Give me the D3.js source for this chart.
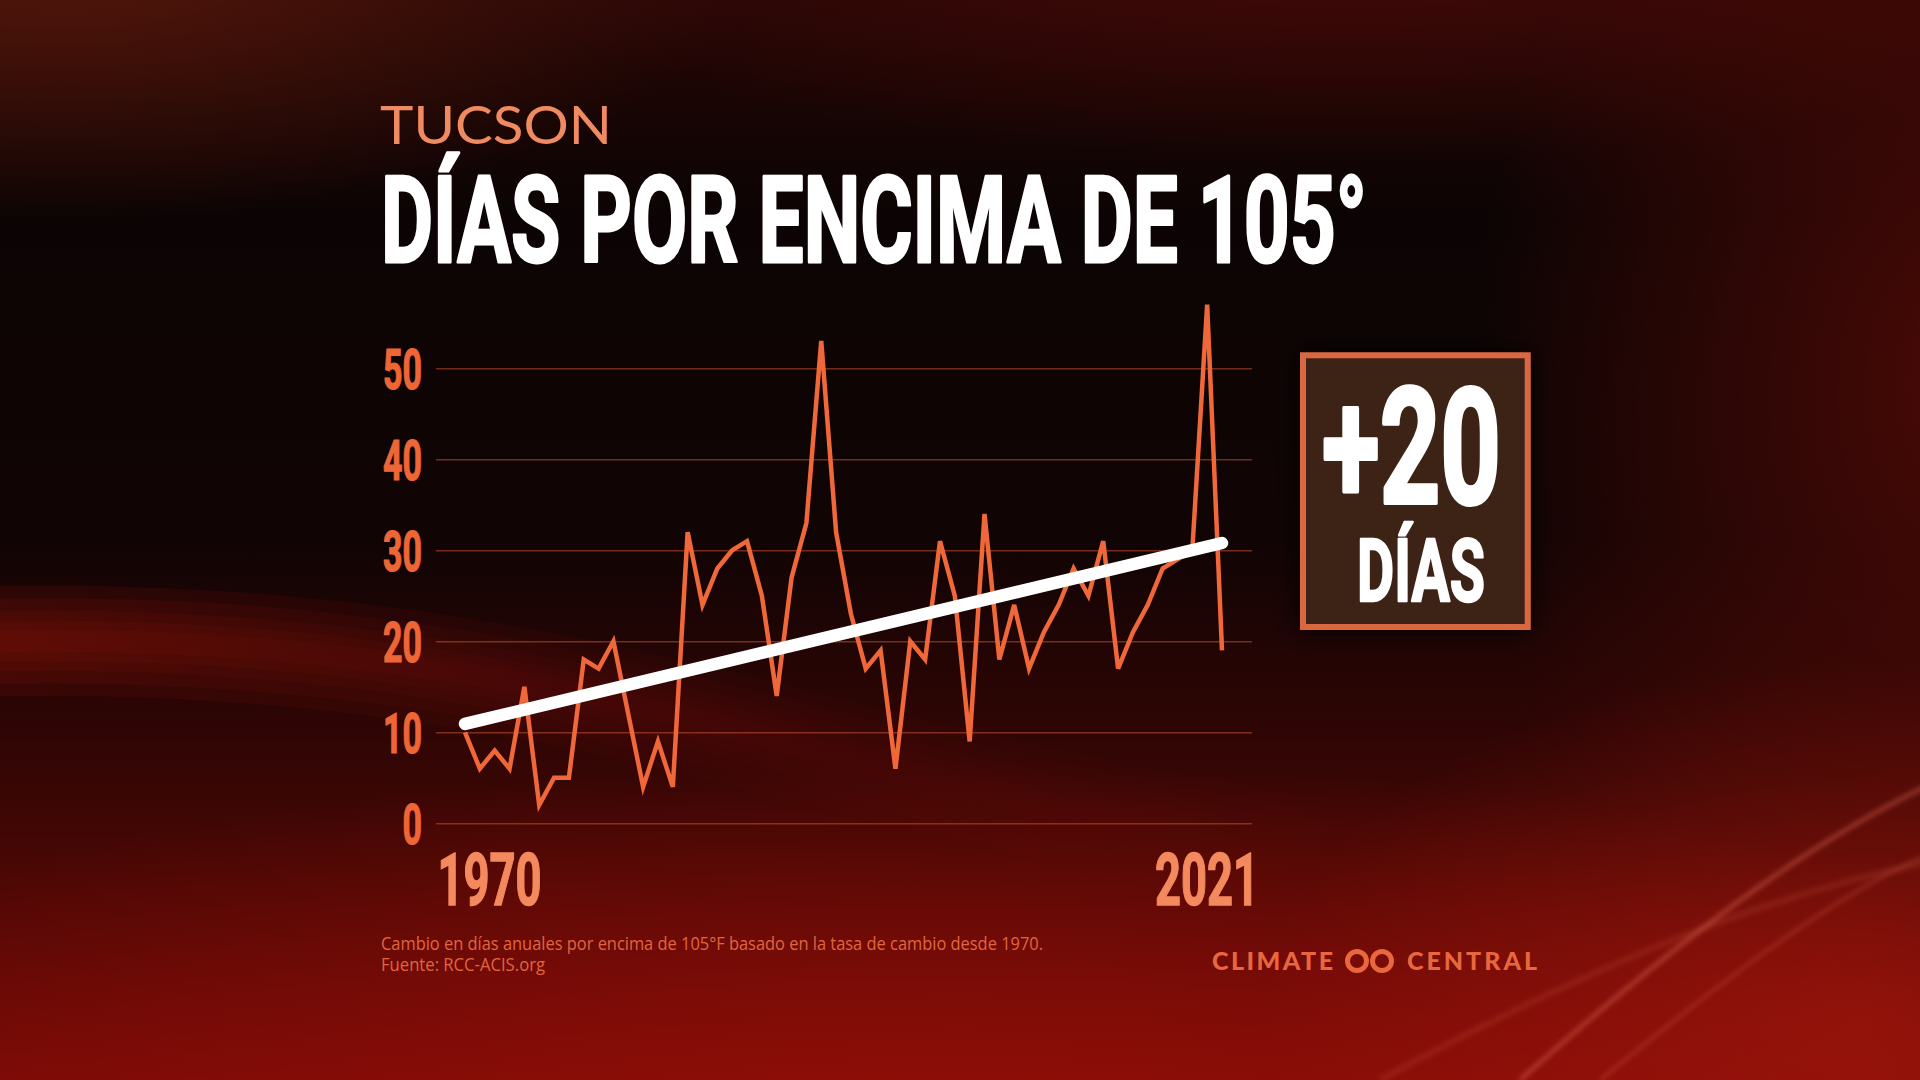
<!DOCTYPE html>
<html>
<head>
<meta charset="utf-8">
<script src="https://cdn.jsdelivr.net/npm/d3@7"></script>
<style>
  html, body { margin: 0; padding: 0; background: #0e0504; }
  svg { display: block; }
</style>
</head>
<body>
<svg id="chart" width="1920" height="1080"></svg>
<script>
/* Tucson — days above 105°F, 1970–2021 */

const years = [1970, 1971, 1972, 1973, 1974, 1975, 1976, 1977, 1978, 1979,
               1980, 1981, 1982, 1983, 1984, 1985, 1986, 1987, 1988, 1989,
               1990, 1991, 1992, 1993, 1994, 1995, 1996, 1997, 1998, 1999,
               2000, 2001, 2002, 2003, 2004, 2005, 2006, 2007, 2008, 2009,
               2010, 2011, 2012, 2013, 2014, 2015, 2016, 2017, 2018, 2019,
               2020, 2021];
const daysAbove105 = [10, 6, 8, 6, 15, 2, 5, 5, 18, 17,
                      20, 12, 4, 9, 4, 32, 24, 28, 30, 31,
                      25, 14, 27, 33, 53, 32, 23, 17, 19, 6,
                      20, 18, 31, 25, 9, 34, 18, 24, 17, 21,
                      24, 28, 25, 31, 17, 21, 24, 28, 29, 30,
                      57, 19];
const yTicks = [0, 10, 20, 30, 40, 50];
const yearLabels = [1970, 2021];
const changeText = ['+20', 'DÍAS'];
const cityText = 'TUCSON';
const titleText = 'DÍAS POR ENCIMA DE 105°';
const footnotes = ['Cambio en días anuales por encima de 105°F basado en la tasa de cambio desde 1970.',
                   'Fuente: RCC-ACIS.org'];

const COND = 'Roboto, "Liberation Sans", sans-serif';
const svg = d3.select('#chart');
const defs = svg.append('defs');

/* ---------- Background ---------- */
const bg = defs.append('linearGradient').attr('id', 'bgV')
  .attr('x1', 0).attr('y1', 0).attr('x2', 0).attr('y2', 1);
[[0, '#240605'], [0.2, '#0c0404'], [0.5, '#110404'], [0.72, '#360604'], [1, '#760a06']]
  .forEach(([o, c]) => bg.append('stop').attr('offset', o).attr('stop-color', c));

// soft radial glows: [id, colour, opacity]
[['gTL', '#5c1a0c', 0.85], ['gTR', '#4c0a07', 0.8], ['gR', '#520a06', 0.9],
 ['gB', '#980f08', 0.8], ['gBR', '#a8180d', 0.6]]
  .forEach(([id, c, o]) => {
    const g = defs.append('radialGradient').attr('id', id);
    g.append('stop').attr('offset', 0).attr('stop-color', c).attr('stop-opacity', o);
    g.append('stop').attr('offset', 0.55).attr('stop-color', c).attr('stop-opacity', o * 0.45);
    g.append('stop').attr('offset', 1).attr('stop-color', c).attr('stop-opacity', 0);
  });

// band fades out towards the right
const band = defs.append('linearGradient').attr('id', 'bandFade')
  .attr('gradientUnits', 'userSpaceOnUse')
  .attr('x1', 0).attr('y1', 0).attr('x2', 1400).attr('y2', 0);
band.append('stop').attr('offset', 0).attr('stop-color', '#7e1008').attr('stop-opacity', 1);
band.append('stop').attr('offset', 0.45).attr('stop-color', '#6a0c07').attr('stop-opacity', 0.45);
band.append('stop').attr('offset', 1).attr('stop-color', '#6a0c07').attr('stop-opacity', 0);

defs.append('filter').attr('id', 'blurSm')
  .attr('filterUnits', 'userSpaceOnUse')
  .attr('x', 1200).attr('y', 650).attr('width', 800).attr('height', 500)
  .append('feGaussianBlur').attr('stdDeviation', 2.5);

const shadow = defs.append('filter').attr('id', 'boxShadow')
  .attr('x', '-30%').attr('y', '-30%').attr('width', '160%').attr('height', '160%');
shadow.append('feDropShadow').attr('dx', 0).attr('dy', 0)
  .attr('stdDeviation', 14).attr('flood-color', '#000').attr('flood-opacity', 0.9);

svg.append('rect').attr('width', 1920).attr('height', 1080).attr('fill', 'url(#bgV)');

const glow = svg.append('g');
glow.append('ellipse').attr('cx', 60).attr('cy', -40).attr('rx', 700).attr('ry', 260).attr('fill', 'url(#gTL)');
glow.append('ellipse').attr('cx', 1350).attr('cy', -60).attr('rx', 900).attr('ry', 220).attr('fill', 'url(#gTR)');
glow.append('ellipse').attr('cx', 1990).attr('cy', 380).attr('rx', 520).attr('ry', 700).attr('fill', 'url(#gR)');
glow.append('ellipse').attr('cx', 960).attr('cy', 1140).attr('rx', 1400).attr('ry', 380).attr('fill', 'url(#gB)');
glow.append('ellipse').attr('cx', 1860).attr('cy', 1020).attr('rx', 600).attr('ry', 360).attr('fill', 'url(#gBR)');

// left swoosh band: stacked soft strokes
const bandPath = 'M-100,645 C200,628 480,662 760,736 C1000,798 1200,836 1400,866';
[110, 85, 60, 40, 22].forEach(w => {
  glow.append('path')
    .attr('d', bandPath)
    .attr('fill', 'none')
    .attr('stroke', 'url(#bandFade)')
    .attr('stroke-opacity', 0.2)
    .attr('stroke-width', w);
});

const streaks = svg.append('g').attr('fill', 'none').attr('filter', 'url(#blurSm)');
[[1520, 1080, 1700, 920, 1830, 830, 1940, 780, 0.45, 4],
 [1600, 1080, 1760, 950, 1860, 880, 1940, 850, 0.3, 3],
 [1380, 1080, 1600, 960, 1780, 890, 1940, 860, 0.16, 6]]
  .forEach(([x0, y0, x1, y1, x2, y2, x3, y3, o, w]) => {
    streaks.append('path')
      .attr('d', `M${x0},${y0} C${x1},${y1} ${x2},${y2} ${x3},${y3}`)
      .attr('stroke', '#e8705a').attr('stroke-opacity', o).attr('stroke-width', w);
  });

/* ---------- Titles ---------- */
svg.append('text')
  .attr('x', 380).attr('y', 144)
  .attr('font-family', 'Lato, "Noto Sans", sans-serif')
  .attr('font-size', 53).attr('font-weight', 400)
  .attr('fill', '#f08a60')
  .attr('textLength', 232).attr('lengthAdjust', 'spacingAndGlyphs')
  .text(cityText);

svg.append('text')
  .attr('x', 381).attr('y', 262)
  .attr('font-family', COND)
  .attr('font-size', 120).attr('font-weight', 700)
  .attr('fill', '#ffffff')
  .attr('stroke', '#ffffff').attr('stroke-width', 3).attr('stroke-linejoin', 'round')
  .attr('textLength', 986).attr('lengthAdjust', 'spacingAndGlyphs')
  .text(titleText);

/* ---------- Chart ---------- */
const gridLeft = 436, gridRight = 1252;
const x = d3.scaleLinear().domain([1970, 2021]).range([465, 1222]);
const y = d3.scaleLinear().domain([0, 50]).range([823.3, 368.3]);

const yAxis = svg.append('g')
  .attr('transform', `translate(${gridLeft},0)`)
  .call(d3.axisLeft(y).tickValues(yTicks)
    .tickSize(-(gridRight - gridLeft)).tickSizeOuter(0).tickPadding(14));
yAxis.select('.domain').remove();
yAxis.selectAll('.tick line')
  .attr('stroke', '#c4512c').attr('stroke-opacity', 0.55).attr('stroke-width', 1.6);
yAxis.selectAll('.tick text')
  .attr('font-family', COND).attr('font-size', 55).attr('font-weight', 700)
  .attr('fill', '#ee6636').attr('stroke', '#ee6636').attr('stroke-width', 1.2)
  .attr('dy', '0.36em')
  .attr('textLength', d => String(d).length * 19.5)
  .attr('lengthAdjust', 'spacingAndGlyphs');

const data = years.map((yr, i) => ({ year: yr, value: daysAbove105[i] }));

svg.append('path')
  .datum(data)
  .attr('fill', 'none')
  .attr('stroke', '#f0683a')
  .attr('stroke-width', 4.5)
  .attr('stroke-linejoin', 'miter')
  .attr('d', d3.line().x(d => x(d.year)).y(d => y(d.value)));

// least-squares trend
const mx = d3.mean(data, d => d.year), my = d3.mean(data, d => d.value);
const slope = d3.sum(data, d => (d.year - mx) * (d.value - my)) /
              d3.sum(data, d => (d.year - mx) * (d.year - mx));
const trendAt = yr => my + slope * (yr - mx);
const ends = d3.extent(years);

svg.append('line')
  .attr('x1', x(ends[0])).attr('y1', y(trendAt(ends[0])))
  .attr('x2', x(ends[1])).attr('y2', y(trendAt(ends[1])))
  .attr('stroke', '#ffffff')
  .attr('stroke-width', 12.5)
  .attr('stroke-linecap', 'round');

// year labels
svg.selectAll('.year-label')
  .data(yearLabels)
  .join('text')
  .attr('class', 'year-label')
  .attr('x', (d, i) => i === 0 ? x(d) - 27.5 : x(d) + 37)
  .attr('y', 905)
  .attr('text-anchor', (d, i) => i === 0 ? 'start' : 'end')
  .attr('font-family', COND).attr('font-size', 73).attr('font-weight', 700)
  .attr('fill', '#f4895e').attr('stroke', '#f4895e').attr('stroke-width', 1.5)
  .attr('textLength', 104).attr('lengthAdjust', 'spacingAndGlyphs')
  .text(d => d);

/* ---------- Change box ---------- */
const box = svg.append('g');
box.append('rect')
  .attr('x', 1303).attr('y', 355.3).attr('width', 224.7).attr('height', 271.7)
  .attr('fill', '#3c2116')
  .attr('stroke', '#d9683f').attr('stroke-width', 6)
  .attr('filter', 'url(#boxShadow)');
box.append('text')
  .attr('x', 1322).attr('y', 503)
  .attr('font-family', COND).attr('font-size', 162).attr('font-weight', 700)
  .attr('fill', '#ffffff').attr('stroke', '#ffffff').attr('stroke-width', 4)
  .attr('stroke-linejoin', 'round')
  .attr('textLength', 179).attr('lengthAdjust', 'spacingAndGlyphs')
  .text(changeText[0]);
box.append('text')
  .attr('x', 1357).attr('y', 601)
  .attr('font-family', COND).attr('font-size', 88).attr('font-weight', 700)
  .attr('fill', '#ffffff').attr('stroke', '#ffffff').attr('stroke-width', 2.5)
  .attr('stroke-linejoin', 'round')
  .attr('textLength', 128).attr('lengthAdjust', 'spacingAndGlyphs')
  .text(changeText[1]);

/* ---------- Footer ---------- */
svg.selectAll('.foot')
  .data(footnotes)
  .join('text')
  .attr('class', 'foot')
  .attr('x', 381)
  .attr('y', (d, i) => 950 + i * 21)
  .attr('font-family', '"Open Sans", "Noto Sans", sans-serif')
  .attr('font-size', 18)
  .attr('fill', '#e0663f')
  .attr('textLength', (d, i) => i === 0 ? 662 : 164)
  .attr('lengthAdjust', 'spacingAndGlyphs')
  .text(d => d);

const logo = svg.append('g').attr('fill', '#e8673e');
logo.append('text')
  .attr('x', 1212).attr('y', 970)
  .attr('font-family', 'Lato, "Noto Sans", sans-serif')
  .attr('font-size', 25).attr('font-weight', 900)
  .attr('textLength', 121).attr('lengthAdjust', 'spacing')
  .text('CLIMATE');
logo.append('text')
  .attr('x', 1407).attr('y', 970)
  .attr('font-family', 'Lato, "Noto Sans", sans-serif')
  .attr('font-size', 25).attr('font-weight', 900)
  .attr('textLength', 130).attr('lengthAdjust', 'spacing')
  .text('CENTRAL');
[1357, 1382].forEach(cx => {
  logo.append('circle')
    .attr('cx', cx).attr('cy', 961).attr('r', 9.5)
    .attr('fill', 'none').attr('stroke', '#e8673e').attr('stroke-width', 5);
});
</script>
</body>
</html>
